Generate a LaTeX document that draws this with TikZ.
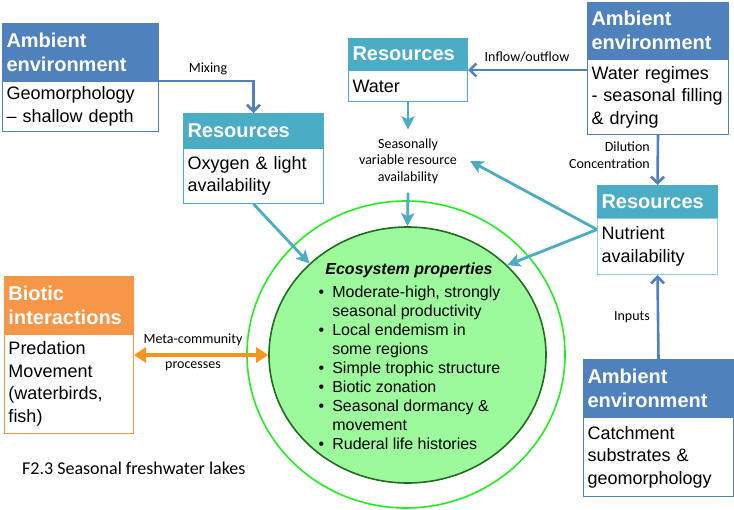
\documentclass[tikz,border=0pt]{standalone}
\usepackage{fontspec}
\setmainfont{Liberation Sans}
\newfontfamily\carl{Carlito}
\usetikzlibrary{arrows.meta,shapes.geometric}
\definecolor{ambblue}{HTML}{4F81BD}
\definecolor{resteal}{HTML}{4BACC6}
\definecolor{lightteal}{HTML}{92CDDC}
\definecolor{bioorange}{HTML}{F79646}
\definecolor{arrorange}{HTML}{F7941E}
\definecolor{outergreen}{HTML}{1EF01E}
\definecolor{innerfill}{HTML}{9CFA9C}
\definecolor{innerline}{HTML}{1E6E1E}
\tikzset{
  hdr/.style={anchor=north west, inner xsep=4pt, inner ysep=0pt, align=left,
    font=\fontsize{20}{24}\selectfont\bfseries, text=white, draw=#1, fill=#1, line width=1pt},
  bod/.style={anchor=north west, inner xsep=4pt, inner ysep=0pt, align=left,
    font=\fontsize{18}{22.5}\selectfont, text=black, draw=#1, fill=white, line width=1pt},
  lbl/.style={font=\carl\fontsize{14}{16.5}\selectfont, inner sep=1pt, align=center},
  barrow/.style={draw=ambblue, line width=2.6pt, -{Straight Barb[length=6.5pt,width=13pt]}},
  tarrow/.style={draw=resteal, line width=2.8pt, -{Stealth[length=13pt,width=13pt,inset=3pt]}},
  oarrow/.style={draw=arrorange, line width=3.5pt, {Triangle[length=12pt,width=15pt]}-{Triangle[length=12pt,width=15pt]}},
}
\begin{document}
\begin{tikzpicture}[x=1pt,y=-1pt]
\useasboundingbox (0,0) rectangle (734,509);
% circles
\node[ellipse, draw=outergreen, line width=1.6pt, minimum width=318pt, minimum height=307pt, inner sep=0pt] (outer) at (406,354.5) {};
\node[ellipse, draw=innerline, fill=innerfill, line width=1.6pt, minimum width=277pt, minimum height=256pt, inner sep=0pt] (inner) at (407.5,355) {};
\node[font=\fontsize{16}{19}\selectfont\bfseries\itshape, inner sep=0pt] (ecotitle) at (409,270) {Ecosystem properties};
\node[anchor=north west, inner sep=0pt, font=\fontsize{16}{19}\selectfont] (ecolist) at (318.5,284)
 {\begin{tabular}{@{}l@{\hspace{8pt}}l@{}}
 •&Moderate-high, strongly\\
  &seasonal productivity\\
 •&Local endemism in\\
  &some regions\\
 •&Simple trophic structure\\
 •&Biotic zonation\\
 •&Seasonal dormancy \&\\
  &movement\\
 •&Ruderal life histories
 \end{tabular}};
% boxes
\node[hdr=ambblue, text width=148pt, minimum height=57pt] (atlh) at (2,23) {Ambient\\environment};
\node[bod=ambblue, text width=148pt, minimum height=50pt] (atlb) at (atlh.south west) {Geomorphology\\– shallow depth};
\node[hdr=resteal, text width=132pt, minimum height=34pt] (oxyh) at (183,113) {Resources};
\node[bod=resteal, text width=132pt, minimum height=55pt] (oxyb) at (oxyh.south west) {Oxygen \& light\\availability};
\node[hdr=resteal, text width=111pt, minimum height=31pt] (wath) at (348,38) {Resources};
\node[bod=resteal, text width=111pt, minimum height=31pt] (watb) at (wath.south west) {Water};
\node[hdr=ambblue, text width=133pt, minimum height=56pt] (atrh) at (587,2) {Ambient\\environment};
\node[bod=ambblue, text width=133pt, minimum height=75pt] (atrb) at (atrh.south west) {Water regimes\\- seasonal filling\\\& drying};
\node[hdr=resteal, text width=112pt, minimum height=32pt] (nuth) at (597,185) {Resources};
\node[bod=lightteal, text width=112pt, minimum height=56pt] (nutb) at (nuth.south west) {Nutrient\\availability};
\node[hdr=ambblue, text width=142pt, minimum height=57pt] (abrh) at (583,359) {Ambient\\environment};
\node[bod=ambblue, text width=142pt, minimum height=79pt] (abrb) at (abrh.south west) {Catchment\\substrates \&\\geomorphology};
\node[hdr=bioorange, text width=121pt, minimum height=57pt] (bioh) at (4,276) {Biotic\\interactions};
\node[bod=bioorange, text width=121pt, minimum height=99pt] (biob) at (bioh.south west) {Predation\\Movement\\(waterbirds,\\fish)};
% labels
\node[lbl] (mix) at (208,69) {Mixing};
\node[lbl] (inflow) at (527,57) {Inflow/outflow};
\node[lbl, inner xsep=2pt, inner ysep=9pt] (svra) at (408,161) {Seasonally\\variable resource\\availability};
\node[lbl, align=right, anchor=east, font=\carl\fontsize{14}{17}\selectfont] (dil) at (651,155.5) {Dilution\\Concentration};
\node[lbl, anchor=east] (inputs) at (651,317) {Inputs};
\node[lbl, font=\carl\fontsize{14}{25}\selectfont] (meta) at (193,352.5) {Meta-community\\processes};
\node[anchor=west, inner sep=0pt, font=\carl\fontsize{18}{21}\selectfont] (cap) at (22,468) {F2.3 Seasonal freshwater lakes};
% connectors
\draw[barrow] (atlh.south east) -| (oxyh.north);
\draw[barrow] (atrb.west |- wath.south east) -- (wath.south east);
\draw[barrow] (atrb.south) -- (nuth.north);
\draw[barrow] (abrh.north) -- (nutb.south);
\draw[tarrow] (watb.south) -- (svra.north);
\draw[tarrow] (svra.south) -- (inner.north);
\draw[tarrow] (oxyb.south) -- (inner.137);
\draw[tarrow] ([yshift=17pt]nutb.west) -- ([xshift=11pt]svra.east);
\draw[tarrow] ([yshift=17pt]nutb.west) -- (inner.42);
\draw[oarrow] (biob.east |- inner.west) -- (inner.west);
\end{tikzpicture}
\end{document}
